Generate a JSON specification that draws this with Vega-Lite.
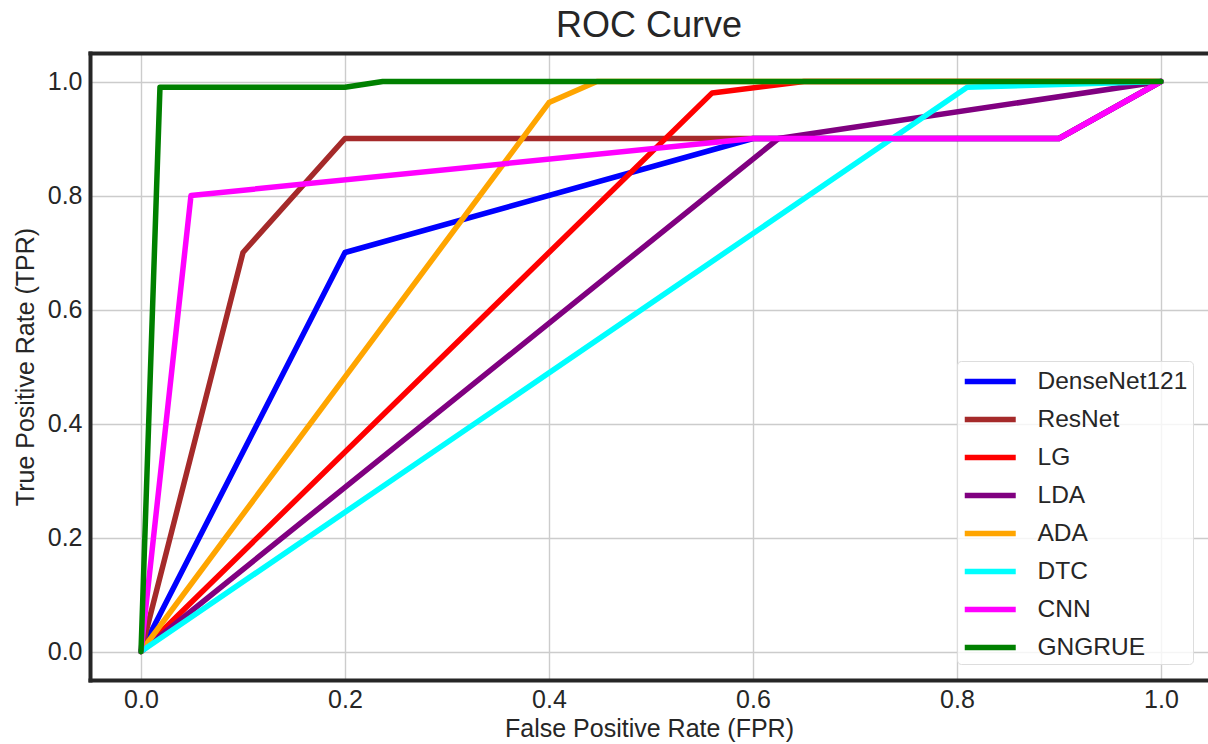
{
  "$schema": "https://vega.github.io/schema/vega-lite/v6.json",
  "width": 1118,
  "height": 627,
  "autosize": {"type": "none"},
  "padding": {"left": 90, "top": 53, "right": 0, "bottom": 64},
  "background": "white",
  "title": {"text": "ROC Curve", "fontSize": 36, "font": "Liberation Sans", "fontWeight": "normal", "color": "#262626", "anchor": "middle", "offset": 8},
  "config": {
    "view": {"stroke": null},
    "axis": {"labelFont": "Liberation Sans", "titleFont": "Liberation Sans", "labelColor": "#262626", "titleColor": "#262626", "titleFontWeight": "normal"}
  },
  "data": {"values": [
    {"model": "DenseNet121", "fpr": 0.0, "tpr": 0.0},
    {"model": "DenseNet121", "fpr": 0.2, "tpr": 0.7},
    {"model": "DenseNet121", "fpr": 0.6, "tpr": 0.9},
    {"model": "DenseNet121", "fpr": 0.9, "tpr": 0.9},
    {"model": "DenseNet121", "fpr": 1.0, "tpr": 1.0},
    {"model": "ResNet", "fpr": 0.0, "tpr": 0.0},
    {"model": "ResNet", "fpr": 0.1, "tpr": 0.7},
    {"model": "ResNet", "fpr": 0.2, "tpr": 0.9},
    {"model": "ResNet", "fpr": 0.9, "tpr": 0.9},
    {"model": "ResNet", "fpr": 1.0, "tpr": 1.0},
    {"model": "LG", "fpr": 0.0, "tpr": 0.0},
    {"model": "LG", "fpr": 0.56, "tpr": 0.98},
    {"model": "LG", "fpr": 0.65, "tpr": 1.0},
    {"model": "LG", "fpr": 1.0, "tpr": 1.0},
    {"model": "LDA", "fpr": 0.0, "tpr": 0.0},
    {"model": "LDA", "fpr": 0.625, "tpr": 0.9},
    {"model": "LDA", "fpr": 1.0, "tpr": 1.0},
    {"model": "ADA", "fpr": 0.0, "tpr": 0.0},
    {"model": "ADA", "fpr": 0.4, "tpr": 0.963},
    {"model": "ADA", "fpr": 0.447, "tpr": 1.0},
    {"model": "ADA", "fpr": 1.0, "tpr": 1.0},
    {"model": "DTC", "fpr": 0.0, "tpr": 0.0},
    {"model": "DTC", "fpr": 0.81, "tpr": 0.99},
    {"model": "DTC", "fpr": 1.0, "tpr": 1.0},
    {"model": "CNN", "fpr": 0.0, "tpr": 0.0},
    {"model": "CNN", "fpr": 0.049, "tpr": 0.8},
    {"model": "CNN", "fpr": 0.6, "tpr": 0.9},
    {"model": "CNN", "fpr": 0.9, "tpr": 0.9},
    {"model": "CNN", "fpr": 1.0, "tpr": 1.0},
    {"model": "GNGRUE", "fpr": 0.0, "tpr": 0.0},
    {"model": "GNGRUE", "fpr": 0.0186, "tpr": 0.99},
    {"model": "GNGRUE", "fpr": 0.2, "tpr": 0.99},
    {"model": "GNGRUE", "fpr": 0.237, "tpr": 1.0},
    {"model": "GNGRUE", "fpr": 1.0, "tpr": 1.0}
  ]},
  "layer": [
    {
      "mark": {"type": "line", "strokeWidth": 5.5, "strokeCap": "round", "strokeJoin": "round"},
      "encoding": {
        "x": {"field": "fpr", "type": "quantitative",
          "scale": {"domain": [-0.05, 1.0461], "nice": false, "zero": false},
          "axis": {"orient": "bottom", "values": [0, 0.2, 0.4, 0.6, 0.8, 1.0], "format": ".1f", "title": "False Positive Rate (FPR)",
            "labelFontSize": 25, "titleFontSize": 25, "ticks": false, "tickSize": 0, "labelPadding": 7, "titlePadding": 4,
            "grid": true, "gridColor": "#cccccc", "gridWidth": 1.4,
            "domain": true, "domainColor": "#262626", "domainWidth": 4, "domainCap": "square"}},
        "y": {"field": "tpr", "type": "quantitative",
          "scale": {"domain": [-0.05, 1.05], "nice": false, "zero": false},
          "axis": {"orient": "left", "values": [0, 0.2, 0.4, 0.6, 0.8, 1.0], "format": ".1f", "title": "True Positive Rate (TPR)",
            "labelFontSize": 25, "titleFontSize": 25, "ticks": false, "tickSize": 0, "labelPadding": 8, "titlePadding": 9,
            "grid": true, "gridColor": "#cccccc", "gridWidth": 1.4,
            "domain": true, "domainColor": "#262626", "domainWidth": 4, "domainCap": "square"}},
        "color": {"field": "model", "type": "nominal",
          "scale": {"domain": ["DenseNet121", "ResNet", "LG", "LDA", "ADA", "DTC", "CNN", "GNGRUE"],
                    "range": ["#0000ff", "#a52a2a", "#ff0000", "#800080", "#ffa500", "#00ffff", "#ff00ff", "#008000"]},
          "legend": {"title": null, "orient": "none", "legendX": 867, "legendY": 308,
            "symbolType": "M-1,0H3", "symbolStrokeWidth": 5.5, "symbolSize": 650, "symbolStrokeCap": "round",
            "labelFont": "Liberation Sans", "labelFontSize": 24.5, "labelColor": "#262626", "labelOffset": 44.5, "labelLimit": 400,
            "rowPadding": 11, "padding": 5, "fillColor": "rgba(255,255,255,0.8)", "strokeColor": "#dddddd", "cornerRadius": 4}}
      }
    },
    {
      "mark": {"type": "line", "opacity": 0},
      "encoding": {
        "x": {"field": "fpr", "type": "quantitative",
          "axis": {"orient": "top", "labels": false, "ticks": false, "grid": false, "title": null,
            "domain": true, "domainColor": "#262626", "domainWidth": 4, "domainCap": "square"}},
        "y": {"field": "tpr", "type": "quantitative"},
        "detail": {"field": "model"}
      }
    }
  ],
  "resolve": {"axis": {"x": "independent"}}
}
